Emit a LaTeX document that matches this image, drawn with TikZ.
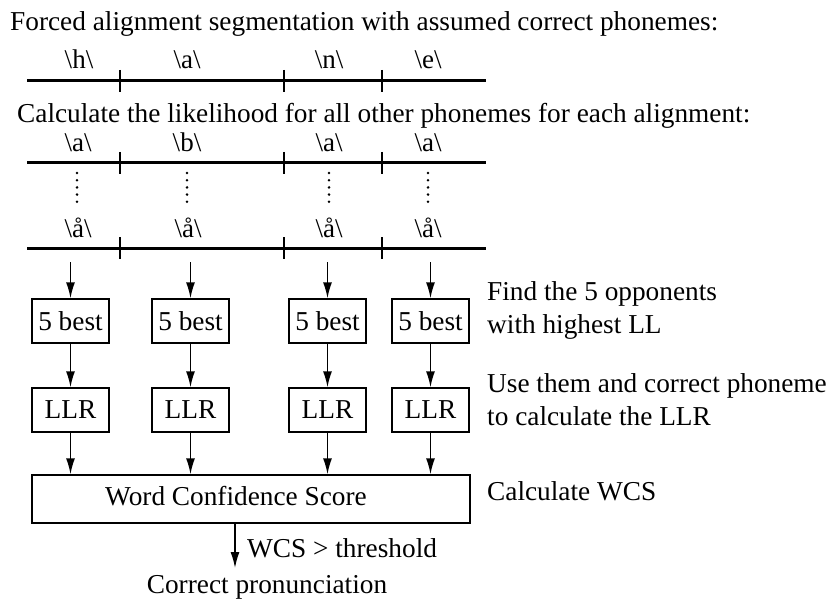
\documentclass[tikz,border=0pt]{standalone}
\usepackage{fontspec}
\setmainfont{Liberation Serif}
\usetikzlibrary{arrows.meta}
\begin{document}
\begin{tikzpicture}[x=1pt,y=-1pt,
  txt/.style={inner sep=0pt,anchor=base west,font=\fontsize{27.3}{31}\selectfont},
  lab/.style={inner sep=0pt,anchor=base,font=\fontsize{27}{31}\selectfont},
  axisline/.style={line width=3pt},
  tickmark/.style={line width=2.6pt},
  box/.style={draw,line width=1.4pt,inner sep=0pt,font=\fontsize{27.3}{31}\selectfont},
  arr/.style={line width=1.5pt,-{Latex[length=16pt,width=9pt]}},
  dotcol/.style={line width=2.8pt,line cap=round,dash pattern=on 0pt off 7.2pt}
]
\useasboundingbox (0,0) rectangle (828,599);
% titles
\node[txt] (t1) at (10,31) {Forced alignment segmentation with assumed correct phonemes:};
\node[txt] (t2) at (17,123) {Calculate the likelihood for all other phonemes for each alignment:};
% segmentation lines
\foreach \r/\n in {81/a,163/b,248/c}{
  \coordinate (\n L) at (27,\r);
  \coordinate (\n R) at (486,\r);
  \draw[axisline] (\n L) -- (\n R);
  \foreach \x/\k in {120/1,284/2,382/3}{
    \coordinate (\n t\k u) at (\x,\r-11);
    \coordinate (\n t\k d) at (\x,\r+11);
    \draw[tickmark] (\n t\k u) -- (\n t\k d);
  }
}
% labels row 1
\node[lab] (h1) at (79,69) {\textbackslash h\textbackslash};
\node[lab] (h2) at (187,69) {\textbackslash a\textbackslash};
\node[lab] (h3) at (329,69) {\textbackslash n\textbackslash};
\node[lab] (h4) at (428,69) {\textbackslash e\textbackslash};
% labels row 2
\node[lab] (p1) at (78,152) {\textbackslash a\textbackslash};
\node[lab] (p2) at (187,152) {\textbackslash b\textbackslash};
\node[lab] (p3) at (329,152) {\textbackslash a\textbackslash};
\node[lab] (p4) at (428,152) {\textbackslash a\textbackslash};
% labels row 3
\node[lab] (q1) at (78,237) {\textbackslash å\textbackslash};
\node[lab] (q2) at (188,237) {\textbackslash å\textbackslash};
\node[lab] (q3) at (329,237) {\textbackslash å\textbackslash};
\node[lab] (q4) at (428,237) {\textbackslash å\textbackslash};
% vertical dots
\foreach \x/\k in {77/1,187/2,329/3,428/4}{
  \coordinate (d\k a) at (\x,173);
  \coordinate (d\k b) at (\x,203);
  \draw[dotcol] (d\k a) -- (d\k b);
}
% 5 best boxes
\node[box,minimum width=77pt,minimum height=44pt] (b1) at (70.5,321) {5 best};
\node[box,minimum width=77pt,minimum height=44pt] (b2) at (190.5,321) {5 best};
\node[box,minimum width=77pt,minimum height=44pt] (b3) at (327.5,321) {5 best};
\node[box,minimum width=77pt,minimum height=44pt] (b4) at (430.5,321) {5 best};
% LLR boxes
\node[box,minimum width=77pt,minimum height=44pt] (l1) at (70.5,410) {LLR};
\node[box,minimum width=77pt,minimum height=44pt] (l2) at (190.5,410) {LLR};
\node[box,minimum width=77pt,minimum height=44pt] (l3) at (327.5,410) {LLR};
\node[box,minimum width=77pt,minimum height=44pt] (l4) at (430.5,410) {LLR};
% WCS box
\node[box,minimum width=438pt,minimum height=48pt] (w) at (251,499) {};
\node[txt,anchor=base] (wt) at (236,505) {Word Confidence Score};
% arrows
\foreach \k in {1,2,3,4}{
  \coordinate (s\k) at (b\k.north |- 0,262);
  \draw[arr] (s\k) -- (b\k.north);
  \draw[arr] (b\k.south) -- (l\k.north);
  \draw[arr] (l\k.south) -- (l\k.south |- w.north);
}
% output arrow
\coordinate (wo) at (235,523);
\coordinate (we) at (235,568);
\draw[arr] (wo) -- (we);
\node[txt] (thr) at (247,557) {WCS > threshold};
\node[txt,anchor=base] (cp) at (267,593) {Correct pronunciation};
% right-side descriptions
\node[txt] (r1) at (487,300) {Find the 5 opponents};
\node[txt] (r2) at (487,333) {with highest LL};
\node[txt] (r3) at (487,392) {Use them and correct phoneme};
\node[txt] (r4) at (487,425) {to calculate the LLR};
\node[txt] (r5) at (487,500) {Calculate WCS};
\end{tikzpicture}
\end{document}
